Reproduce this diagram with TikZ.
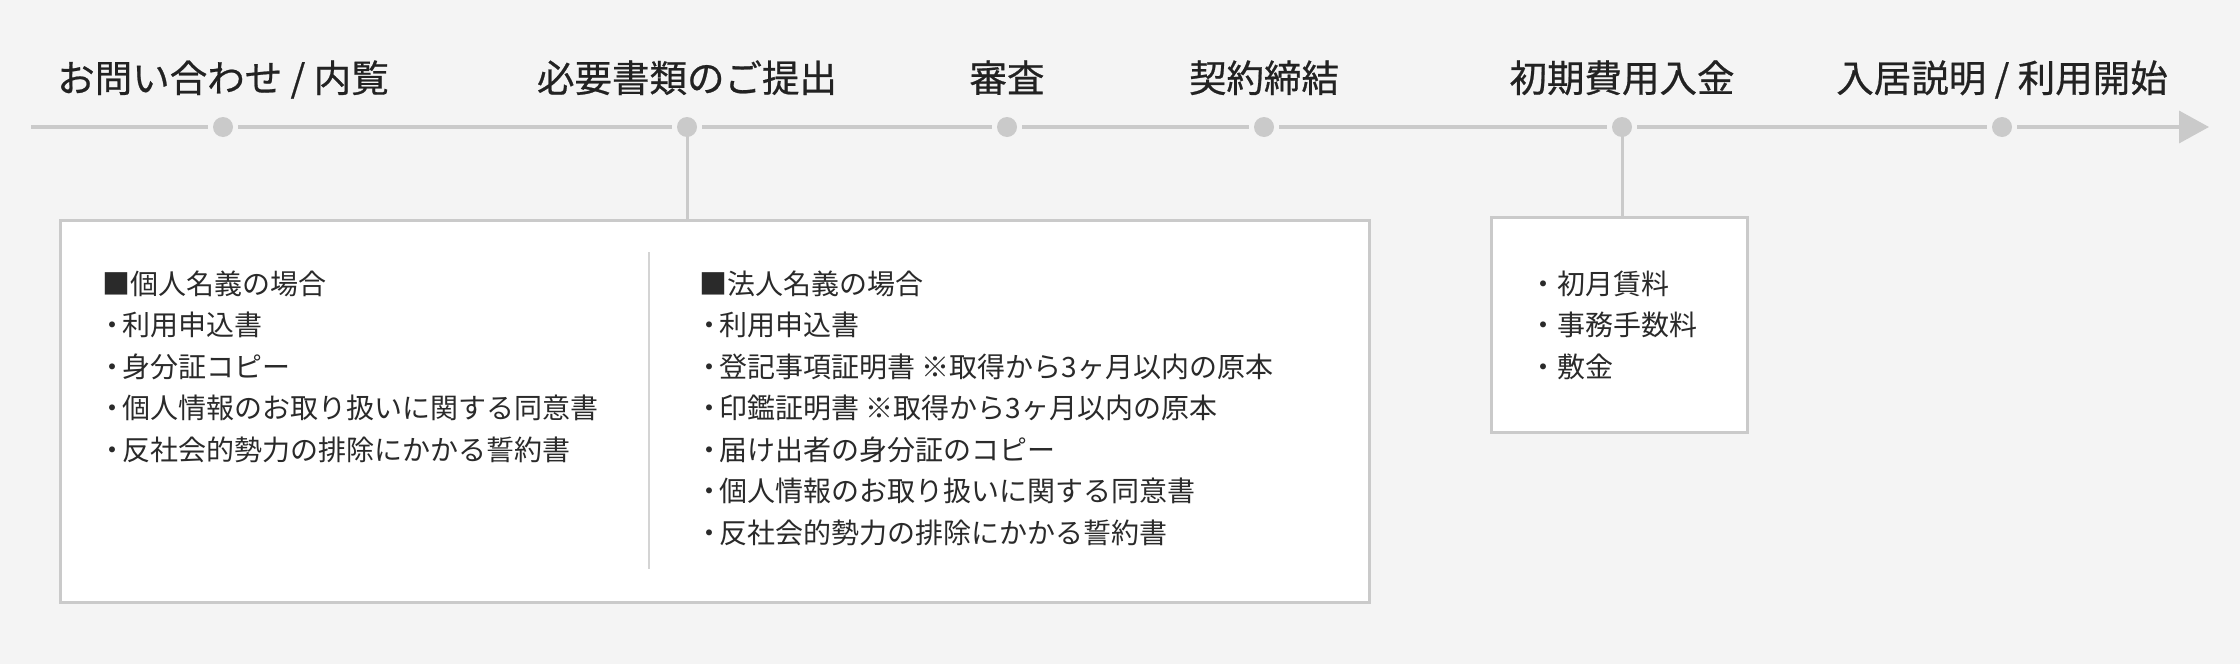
\documentclass[tikz,border=0pt]{standalone}
\usepackage{fontspec}
\setmainfont{Noto Sans CJK JP}
\newfontfamily\headfont[FakeBold=0.6]{Noto Sans CJK JP}
\usetikzlibrary{arrows.meta}
\definecolor{bg}{HTML}{F4F4F4}
\definecolor{tl}{HTML}{CACACA}
\definecolor{ink}{HTML}{222222}
\definecolor{ink2}{HTML}{2A2A2A}
\definecolor{divc}{HTML}{D4D4D4}
\newcommand\bul{\makebox[20pt][c]{・}}
\begin{document}
\begin{tikzpicture}[x=1pt,y=-1pt,
  dotnode/.style={circle, fill=tl, minimum size=20pt, inner sep=0pt, outer sep=5pt},
  steplabel/.style={font={\headfont\fontsize{37.5}{40}\selectfont}, text=ink, anchor=base, inner sep=0pt},
  tline/.style={draw=tl, line width=3.5pt},
  conn/.style={draw=tl, line width=3pt},
  box/.style={draw=tl, fill=white, line width=3pt, inner sep=0pt},
  body/.style={font={\fontsize{28}{41.5}\selectfont}, text=ink2, inner sep=0pt, anchor=base west},
  divline/.style={draw=divc, line width=2pt}]
\fill[bg] (0,0) rectangle (2240,664);
\useasboundingbox (0,0) rectangle (2240,664);

% timeline
\coordinate (ts) at (31,127);
\coordinate (te) at (2209,127);
\foreach \n/\x in {1/223,2/687,3/1007,4/1264,5/1622,6/2002}
  \node[dotnode] (d\n) at (\x,127) {};
\draw[tline] (ts) -- (d1);
\draw[tline] (d1) -- (d2);
\draw[tline] (d2) -- (d3);
\draw[tline] (d3) -- (d4);
\draw[tline] (d4) -- (d5);
\draw[tline] (d5) -- (d6);
\draw[tline, -{Triangle[length=30pt,width=32pt]}] (d6) -- (te);

% labels
\node[steplabel] (s1) at (223,92) {お問い合わせ / 内覧};
\node[steplabel] (s2) at (687,92) {必要書類のご提出};
\node[steplabel] (s3) at (1007,92) {審査};
\node[steplabel] (s4) at (1264,92) {契約締結};
\node[steplabel] (s5) at (1622,92) {初期費用入金};
\node[steplabel] (s6) at (2002,92) {入居説明 / 利用開始};

% boxes
\node[box, minimum width=1309pt, minimum height=382pt] (docs) at (714.5,411) {};
\node[box, minimum width=256pt, minimum height=215pt] (fees) at (1619,324.5) {};
\draw[conn] (d2.center) -- (d2.center |- docs.north);
\draw[conn] (d5.center) -- (d5.center |- fees.north);
\coordinate (dvt) at (649,252);
\coordinate (dvb) at (649,569);
\draw[divline] (dvt) -- (dvb);

% left column
\foreach \t [count=\i] in {■個人名義の場合,\bul 利用申込書,\bul 身分証コピー,\bul 個人情報のお取り扱いに関する同意書,\bul 反社会的勢力の排除にかかる誓約書}
  \node[body] (p\i) at (102,{294+41.5*(\i-1)}) {\t};

% right column
\foreach \t [count=\i] in {■法人名義の場合,\bul 利用申込書,\bul 登記事項証明書 ※取得から3ヶ月以内の原本,\bul 印鑑証明書 ※取得から3ヶ月以内の原本,\bul 届け出者の身分証のコピー,\bul 個人情報のお取り扱いに関する同意書,\bul 反社会的勢力の排除にかかる誓約書}
  \node[body] (c\i) at (699,{294+41.5*(\i-1)}) {\t};

% fees
\foreach \t [count=\i] in {・初月賃料,・事務手数料,・敷金}
  \node[body] (f\i) at (1529,{294+41.5*(\i-1)}) {\t};
\end{tikzpicture}
\end{document}
